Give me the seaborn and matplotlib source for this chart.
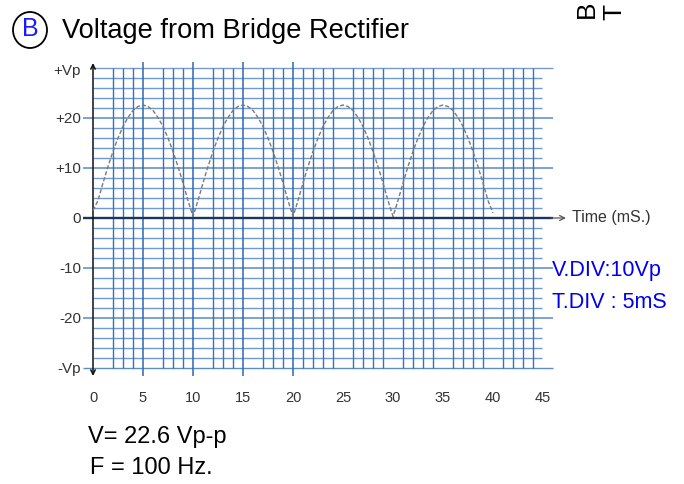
import numpy as np
import pandas as pd
import matplotlib
matplotlib.use("Agg")
import matplotlib.pyplot as plt
from matplotlib.patches import Ellipse
import seaborn as sns

# ---------------- data ----------------
time_ms = np.arange(0, 40.5, 0.5)
voltage = [
    1.5, 3.5, 7.0, 10.3, 13.3, 16.0, 18.3, 20.1, 21.5, 22.3, 22.6,
    22.3, 21.5, 20.1, 18.3, 16.0, 13.3, 10.3, 7.0, 3.5, 0.3,
    3.5, 7.0, 10.3, 13.3, 16.0, 18.3, 20.1, 21.5, 22.3, 22.6,
    22.3, 21.5, 20.1, 18.3, 16.0, 13.3, 10.3, 7.0, 3.5, 0.3,
    3.5, 7.0, 10.3, 13.3, 16.0, 18.3, 20.1, 21.5, 22.3, 22.6,
    22.3, 21.5, 20.1, 18.3, 16.0, 13.3, 10.3, 7.0, 3.5, 0.3,
    3.5, 7.0, 10.3, 13.3, 16.0, 18.3, 20.1, 21.5, 22.3, 22.6,
    22.3, 21.5, 20.1, 18.3, 16.0, 13.3, 10.3, 7.0, 3.5, 1.0,
]
x_ticks = [0, 5, 10, 15, 20, 25, 30, 35, 40, 45]
x_tick_labels = ["0", "5", "10", "15", "20", "25", "30", "35", "40", "45"]
y_ticks = [29.5, 20, 10, 0, -10, -20, -30]
y_tick_labels = ["+Vp", "+20", "+10", "0", "-10", "-20", "-Vp"]
title = "Voltage from Bridge Rectifier"
panel_letter = "B"
x_axis_label = "Time (mS.)"
div_notes = ["V.DIV:10Vp", "T.DIV : 5mS"]
summary_notes = ["V= 22.6 Vp-p", "F = 100 Hz."]

# graph-paper grid (scanned sheet)
v_grid_major = [5, 10, 15, 20]
v_grid_minor = [2, 3, 4, 7, 8, 9, 12, 13, 14, 17, 18, 19, 21, 22, 23, 24,
                26, 27, 28, 29, 31, 32, 33, 34, 36, 37, 38, 39, 41, 42, 43, 44]
h_grid_major = [30, 20, 10, -10, -20, -30]
h_grid_minor = [28, 26, 24, 22, 18, 16, 14, 12, 8, 6, 4, 2,
                -2, -4, -6, -8, -12, -14, -16, -18, -22, -24, -26, -28]

df = pd.DataFrame({"t": time_ms, "v": voltage})

# ---------------- figure ----------------
sns.set_style("white")
plt.rcParams["font.family"] = ["Liberation Sans", "DejaVu Sans"]

fig = plt.figure(figsize=(6.84, 4.85), dpi=100)
ax = fig.add_axes([0, 0, 1, 1])
# 1 ms = 10 px, 1 V = 5 px ; origin at pixel (93, 219)
ax.set_xlim(-9.3, 59.1)
ax.set_ylim(-53.2, 43.8)
ax.axis("off")

grid_v_col = "#3a72c0"
grid_h_col = "#5688cc"

# horizontal grid
ax.hlines(h_grid_minor, 0, 44.9, colors=grid_h_col, lw=1.0, alpha=0.85, zorder=1)
ax.hlines([h for h in h_grid_major if abs(h) < 30], -1.0, 46.0,
          colors=grid_h_col, lw=1.1, zorder=1)
ax.hlines([30], 0, 46.0, colors="#7a9ccc", lw=1.0, zorder=1)
ax.hlines([-30], -1.0, 46.0, colors="#5f8cc8", lw=1.0, zorder=1)

# vertical grid
ax.vlines(v_grid_minor, -30, 30, colors=grid_v_col, lw=1.0, zorder=2)
ax.vlines(v_grid_major, -31.6, 31.2, colors="#2f68b4", lw=1.1, zorder=2)

# zero line with thin arrow at the end
ax.hlines([0], -1.0, 46.0, colors="#1c355e", lw=1.7, zorder=4)
ax.annotate("", xy=(47.3, 0), xytext=(45.8, 0),
            arrowprops=dict(arrowstyle="->", color="#555555", lw=0.9,
                            mutation_scale=9, shrinkA=0, shrinkB=0), zorder=5)
# vertical axis with arrows
ax.annotate("", xy=(0, 31.0), xytext=(0, -31.6),
            arrowprops=dict(arrowstyle="<->", color="#111111", lw=1.1,
                            mutation_scale=8, shrinkA=0, shrinkB=0), zorder=5)

# curve
sns.lineplot(data=df, x="t", y="v", ax=ax, color="#7a7a7a", lw=1.0,
             linestyle=(0, (3, 1.5)), zorder=6)

# tick labels
for yv, lab in zip(y_ticks, y_tick_labels):
    ax.text(-1.2, yv, lab, ha="right", va="center", fontsize=11, color="#333333")
for xv, lab in zip(x_ticks, x_tick_labels):
    ax.text(xv, -35.8, lab, ha="center", va="center", fontsize=10.5, color="#333333")

ax.text(47.9, 0.2, x_axis_label, ha="left", va="center", fontsize=11.5, color="#333333")

# title with circled letter
ax.add_patch(Ellipse((-6.3, 37.6), 3.4, 7.2, fill=False, ec="black", lw=1.3,
                     clip_on=False))
ax.text(-6.3, 37.9, panel_letter, ha="center", va="center", fontsize=18,
        color="#1a1aff")
ax.text(-3.1, 37.6, title, ha="left", va="center", fontsize=19.6, color="black")

# clipped rotated text top right
ax.text(49.4, 40.2, "B", rotation=90, ha="center", va="bottom", fontsize=19,
        color="black")
ax.text(52.1, 39.8, "T", rotation=90, ha="center", va="bottom", fontsize=19,
        color="black")

# blue division notes
ax.text(45.9, -10.4, div_notes[0], ha="left", va="center", fontsize=15.5, color="#0000ee")
ax.text(45.9, -16.8, div_notes[1], ha="left", va="center", fontsize=15.5, color="#0000ee")

# summary
ax.text(-0.5, -43.6, summary_notes[0], ha="left", va="center", fontsize=17, color="black")
ax.text(-0.3, -49.8, summary_notes[1], ha="left", va="center", fontsize=17, color="black")

fig.savefig("out.png", dpi=100)
